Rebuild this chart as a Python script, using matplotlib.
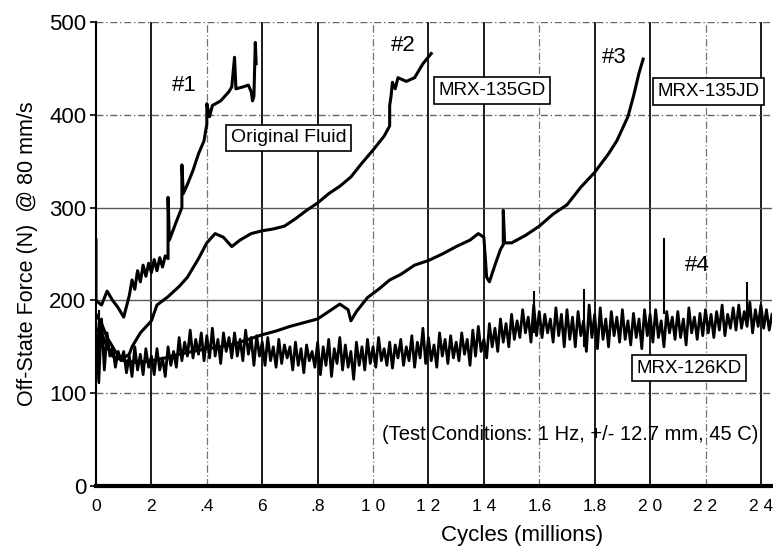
#%% off-state force of MR fluid dampers vs. cycles (durability test)
import numpy as np
import matplotlib.pyplot as plt
from matplotlib import rcParams

rcParams['font.family'] = ['Liberation Sans', 'DejaVu Sans']

# --- data (cycles in millions, force in N) ---
# #1 original fluid
cyc1 = [0.00, 0.00, 0.02, 0.04, 0.06, 0.08, 0.10, 0.12, 0.13, 0.14, 0.15, 0.16,
        0.17, 0.18, 0.19, 0.20, 0.21, 0.22, 0.23, 0.24, 0.25, 0.26, 0.26, 0.26,
        0.265, 0.29, 0.31, 0.31, 0.315, 0.33, 0.35, 0.37, 0.39, 0.40, 0.40, 0.41,
        0.42, 0.45, 0.48, 0.49, 0.50, 0.505, 0.53, 0.55, 0.56, 0.565, 0.57, 0.575,
        0.578]
force1 = [265, 200, 195, 210, 200, 192, 182, 205, 222, 212, 232, 220,
          238, 226, 240, 230, 244, 232, 246, 236, 248, 245, 262, 311,
          265, 285, 300, 346, 315, 325, 340, 358, 372, 390, 412, 398,
          410, 415, 425, 430, 462, 428, 430, 432, 425, 415, 420, 478,
          455]

# #2 MRX-135GD
cyc2 = [0.00, 0.02, 0.04, 0.06, 0.08, 0.10, 0.12, 0.13, 0.16, 0.20, 0.22, 0.26,
        0.30, 0.33, 0.37, 0.40, 0.43, 0.46, 0.49, 0.52, 0.56, 0.60, 0.64, 0.68,
        0.72, 0.76, 0.80, 0.84, 0.88, 0.92, 0.96, 1.00, 1.04, 1.06, 1.06, 1.065,
        1.07, 1.08, 1.09, 1.12, 1.15, 1.18, 1.21]
force2 = [185, 175, 160, 150, 140, 138, 142, 150, 165, 178, 195, 204,
          215, 225, 245, 262, 272, 268, 258, 265, 272, 275, 277, 280,
          288, 297, 305, 315, 323, 333, 348, 362, 377, 388, 410, 420,
          435, 428, 440, 436, 440, 455, 466]

# #3 MRX-135JD
cyc3 = [0.00, 0.02, 0.04, 0.06, 0.10, 0.15, 0.20, 0.25, 0.30, 0.35, 0.40, 0.45,
        0.50, 0.55, 0.60, 0.65, 0.70, 0.75, 0.80, 0.85, 0.88, 0.91, 0.92, 0.94,
        0.98, 1.02, 1.06, 1.10, 1.15, 1.20, 1.25, 1.30, 1.35, 1.38, 1.40, 1.41,
        1.42, 1.44, 1.46, 1.47, 1.47, 1.475, 1.50, 1.55, 1.60, 1.65, 1.70, 1.75,
        1.80, 1.85, 1.88, 1.90, 1.92, 1.94, 1.96, 1.975]
force3 = [170, 165, 150, 140, 135, 133, 135, 138, 142, 145, 148, 150,
          153, 158, 163, 167, 172, 176, 180, 190, 196, 190, 178, 188,
          203, 212, 222, 228, 238, 243, 250, 258, 265, 272, 268, 225,
          220, 238, 255, 260, 297, 262, 262, 270, 280, 293, 303, 322,
          338, 358, 372, 385, 398, 420, 445, 460]

# #4 MRX-126KD, sampled every 0.01 million cycles (noisy band)
cyc4 = np.arange(0, 2.4401, 0.01)
force4 = [175, 112, 180, 125, 165, 140, 150, 128, 145, 135,
          145, 122, 140, 118, 150, 125, 142, 120, 148, 128,
          140, 120, 148, 125, 138, 118, 150, 130, 145, 128,
          160, 135, 155, 140, 168, 138, 158, 142, 165, 135,
          162, 138, 170, 140, 158, 132, 165, 145, 160, 138,
          165, 140, 158, 135, 168, 142, 160, 130, 162, 140,
          155, 130, 160, 135, 150, 128, 158, 132, 152, 138,
          150, 125, 155, 130, 148, 122, 152, 135, 145, 128,
          155, 120, 150, 130, 158, 118, 148, 132, 160, 125,
          152, 128, 145, 115, 155, 130, 150, 125, 158, 132,
          150, 128, 160, 135, 148, 130, 155, 127, 152, 138,
          158, 130, 150, 135, 162, 128, 155, 138, 170, 132,
          160, 135, 152, 128, 165, 140, 158, 132, 162, 138,
          155, 135, 165, 142, 158, 130, 168, 140, 172, 145,
          158, 138, 175, 150, 170, 145, 180, 155, 175, 150,
          185, 158, 178, 160, 190, 165, 182, 155, 195, 162,
          188, 160, 185, 165, 180, 155, 192, 162, 185, 150,
          190, 158, 182, 150, 188, 162, 178, 145, 195, 160,
          185, 148, 192, 158, 180, 150, 188, 162, 182, 155,
          190, 158, 178, 152, 186, 160, 180, 148, 190, 162,
          185, 155, 190, 160, 178, 150, 188, 165, 182, 158,
          188, 160, 180, 152, 192, 165, 182, 158, 186, 162,
          190, 165, 185, 160, 188, 168, 195, 162, 185, 170,
          192, 168, 195, 170, 188, 172, 198, 165, 190, 172,
          195, 170, 190, 168, 185]
# isolated spikes on the #4 trace
spike4_x = [0.01, 1.58, 1.76, 2.05, 2.35]
spike4_lo = [110, 165, 150, 185, 180]
spike4_hi = [190, 210, 212, 267, 220]

xtick_vals = [0, 0.2, 0.4, 0.6, 0.8, 1.0, 1.2, 1.4, 1.6, 1.8, 2.0, 2.2, 2.4]
xtick_text = ["0", "2", ".4", "6", ".8", "1 0", "1 2", "1 4", "1.6", "1.8", "2 0", "2 2", "2 4"]
ytick_vals = [0, 100, 200, 300, 400, 500]

#%% plot
fig = plt.figure(figsize=(7.73, 5.47), dpi=100)
ax = fig.add_axes([0.1242, 0.1115, 0.8745, 0.8483])

# grid: the scan shows a mix of solid and broken lines
dashed_x = [0.4, 1.0, 1.6, 2.2]
for xv in xtick_vals[1:]:
    if xv in dashed_x:
        ax.axvline(xv, color='0.45', lw=0.9, ls=(0, (6, 2, 1, 2)), zorder=1)
    else:
        ax.axvline(xv, color='0.1', lw=1.4, zorder=1)
for yv in ytick_vals[1:]:
    if yv in (200, 300):
        ax.axhline(yv, color='0.35', lw=1.0, zorder=1)
    else:
        ax.axhline(yv, color='0.4', lw=1.0, ls=(0, (5, 2, 1, 2)), zorder=1)

ax.plot(cyc1, force1, color='black', lw=2.2, zorder=3)
ax.plot(cyc2, force2, color='black', lw=2.2, zorder=3)
ax.plot(cyc3, force3, color='black', lw=2.2, zorder=3)
ax.plot(cyc4, force4, color='black', lw=2.0, zorder=3)
ax.vlines(spike4_x, spike4_lo, spike4_hi, color='black', lw=1.5, zorder=3)

ax.set_xlim(0, 2.44)
ax.set_ylim(0, 500)
ax.set_xticks(xtick_vals)
ax.set_xticklabels(xtick_text, fontsize=12.5)
ax.set_yticks(ytick_vals)
ax.set_yticklabels([str(v) for v in ytick_vals], fontsize=16)
ax.tick_params(axis='x', length=0, pad=9)
ax.tick_params(axis='y', length=4, width=1.2, pad=3)

for s in ['top', 'right']:
    ax.spines[s].set_visible(False)
ax.spines['left'].set_linewidth(1.5)
ax.spines['bottom'].set_linewidth(3.0)

ax.set_xlabel("Cycles (millions)", fontsize=16, labelpad=5)
ax.xaxis.set_label_coords(0.63, -0.085)
ax.set_ylabel("Off-State Force (N)  @ 80 mm/s", fontsize=15.5, labelpad=8)

# curve labels
lab = dict(fontsize=16, color='black', zorder=5)
ax.text(0.32, 432, "#1", **lab, ha='center', va='center')
ax.text(1.11, 475, "#2", **lab, ha='center', va='center')
ax.text(1.87, 462, "#3", **lab, ha='center', va='center')
ax.text(2.17, 238, "#4", **lab, ha='center', va='center')

box = dict(boxstyle='square,pad=0.25', fc='white', ec='black', lw=1.2)
ax.text(0.695, 375, "Original Fluid", fontsize=14, ha='center', va='center', bbox=box, zorder=6)
ax.text(1.43, 426, "MRX-135GD", fontsize=13.5, ha='center', va='center', bbox=box, zorder=6)
ax.text(2.21, 425, "MRX-135JD", fontsize=13.5, ha='center', va='center', bbox=box, zorder=6)
ax.text(2.14, 127, "MRX-126KD", fontsize=13.5, ha='center', va='center', bbox=box, zorder=6)

ax.text(1.71, 55, "(Test Conditions: 1 Hz, +/- 12.7 mm, 45 C)", fontsize=14.5,
        ha='center', va='center', zorder=5)

fig.savefig("out.png", dpi=100)
